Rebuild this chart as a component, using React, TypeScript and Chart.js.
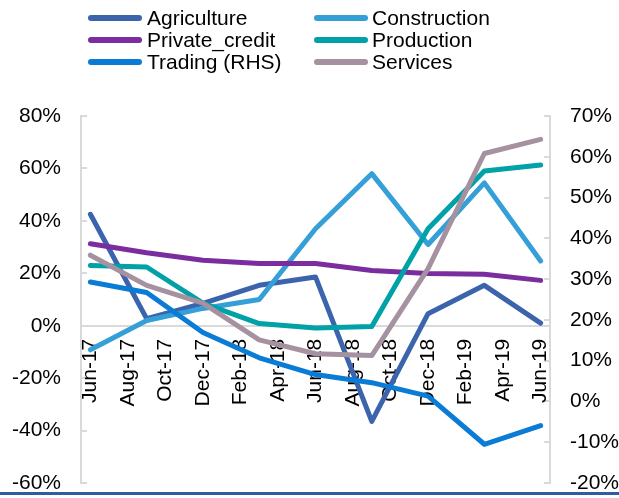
import React, { useEffect, useRef } from 'react';
import { Chart, registerables } from 'chart.js';

Chart.register(...registerables);

// Monthly category axis (labels shown every other month)
const months = [
  'Jun-17', 'Jul-17', 'Aug-17', 'Sep-17', 'Oct-17', 'Nov-17', 'Dec-17',
  'Jan-18', 'Feb-18', 'Mar-18', 'Apr-18', 'May-18', 'Jun-18', 'Jul-18',
  'Aug-18', 'Sep-18', 'Oct-18', 'Nov-18', 'Dec-18', 'Jan-19', 'Feb-19',
  'Mar-19', 'Apr-19', 'May-19', 'Jun-19',
];

// Quarterly observation dates
const quarters = ['Jun-17', 'Sep-17', 'Dec-17', 'Mar-18', 'Jun-18', 'Sep-18', 'Dec-18', 'Mar-19', 'Jun-19'];

// Series values (%)
const agriculture = [42.5, 2.7, 8.5, 15.4, 18.6, -36.5, 4.6, 15.4, 1.0];
const construction = [-9.2, 2.0, 6.6, 10.0, 37.0, 58.0, 31.0, 54.5, 24.7];
const privateCredit = [31.3, 27.8, 25.0, 23.7, 23.7, 21.1, 19.9, 19.6, 17.3];
const production = [23.0, 22.4, 8.6, 0.8, -0.9, -0.3, 37.0, 59.0, 61.3];
const tradingRHS = [29.3, 26.7, 16.9, 10.7, 6.6, 4.6, 1.3, -10.5, -5.9];
const services = [26.9, 15.4, 8.6, -5.4, -10.7, -11.4, 21.8, 65.7, 71.1];

const seriesNames = ['Agriculture', 'Construction', 'Private_credit', 'Production', 'Trading (RHS)', 'Services'];
const seriesValues = [agriculture, construction, privateCredit, production, tradingRHS, services];
const seriesColors = ['#3B64AD', '#35A0D8', '#7B2C9E', '#00A1A7', '#0A7CD6', '#A5919F'];
const seriesAxis = ['y', 'y', 'y', 'y', 'y1', 'y'];

// Axis ticks
const leftMin = -60, leftMax = 80, leftStep = 20;
const rightMin = -20, rightMax = 70, rightStep = 10;

const FONT = '"Liberation Sans", Arial, sans-serif';

export default function App() {
  const ref = useRef<HTMLCanvasElement>(null);

  useEffect(() => {
    if (!ref.current) return;
    const n = seriesNames.length;
    const datasets = seriesNames.map((name, i) => ({
      label: name,
      data: quarters.map((q, k) => ({ x: q, y: seriesValues[i][k] })),
      borderColor: seriesColors[i],
      backgroundColor: seriesColors[i],
      borderWidth: 5,
      pointRadius: 0,
      pointHoverRadius: 0,
      tension: 0,
      fill: false,
      yAxisID: seriesAxis[i],
      borderCapStyle: 'round' as const,
      borderJoinStyle: 'round' as const,
      order: seriesAxis[i] === 'y1' ? 0 : n - i,
    }));

    const yFit = (w: number) => (s: any) => {
      s.width = w;
      s.paddingTop = 0;
      s.paddingBottom = 0;
    };

    const chart = new Chart(ref.current, {
      type: 'line',
      data: { labels: months, datasets },
      options: {
        animation: false,
        responsive: true,
        maintainAspectRatio: false,
        layout: { padding: { top: 116, bottom: 15, left: 0, right: 0 } },
        plugins: { legend: { display: false }, tooltip: { enabled: false } },
        scales: {
          x: {
            type: 'category',
            position: { y: 0 } as any,
            offset: true,
            grid: { display: false, drawTicks: false },
            border: { display: true, color: '#D9D9D9', width: 2 },
            ticks: {
              autoSkip: false,
              minRotation: 90,
              maxRotation: 90,
              padding: 13,
              color: '#000',
              font: { family: FONT, size: 21 },
              callback: (_v: any, i: number) => (i % 2 === 0 ? months[i] : ''),
            },
          },
          y: {
            position: 'left',
            min: leftMin,
            max: leftMax,
            grid: { display: true, drawOnChartArea: false, drawTicks: true, tickLength: -6, color: '#D9D9D9', lineWidth: 2 },
            border: { display: true, color: '#D9D9D9', width: 2 },
            ticks: {
              stepSize: leftStep,
              padding: 26,
              color: '#000',
              font: { family: FONT, size: 21 },
              callback: (v: any) => `${v}%`,
            },
            afterFit: yFit(81),
          },
          y1: {
            position: 'right',
            min: rightMin,
            max: rightMax,
            grid: { display: true, drawOnChartArea: false, drawTicks: true, tickLength: -6, color: '#D9D9D9', lineWidth: 2 },
            border: { display: true, color: '#D9D9D9', width: 2 },
            ticks: {
              stepSize: rightStep,
              padding: 26,
              color: '#000',
              font: { family: FONT, size: 21 },
              callback: (v: any) => `${v}%`,
            },
            afterFit: yFit(69),
          },
        },
      },
    });
    return () => chart.destroy();
  }, []);

  const lineLeft = [88, 314];
  const textLeft = [147, 372];
  const rowCenter = [18, 40, 62];

  return (
    <div style={{ position: 'absolute', left: 0, top: 0, width: 619, height: 498, background: '#fff', overflow: 'hidden' }}>
      <canvas ref={ref} />
      {seriesNames.map((name, i) => {
        const col = i % 2;
        const row = Math.floor(i / 2);
        return (
          <React.Fragment key={name}>
            <div
              style={{
                position: 'absolute',
                left: lineLeft[col],
                top: rowCenter[row] - 3,
                width: 54,
                height: 6,
                borderRadius: 3,
                background: seriesColors[i],
              }}
            />
            <div
              style={{
                position: 'absolute',
                left: textLeft[col],
                top: rowCenter[row] - 12,
                height: 24,
                lineHeight: '24px',
                fontFamily: FONT,
                fontSize: 21,
                color: '#000',
                whiteSpace: 'nowrap',
              }}
            >
              {name}
            </div>
          </React.Fragment>
        );
      })}
      <div style={{ position: 'absolute', left: 0, top: 492, width: 619, height: 3, background: '#2E5DA6' }} />
    </div>
  );
}
